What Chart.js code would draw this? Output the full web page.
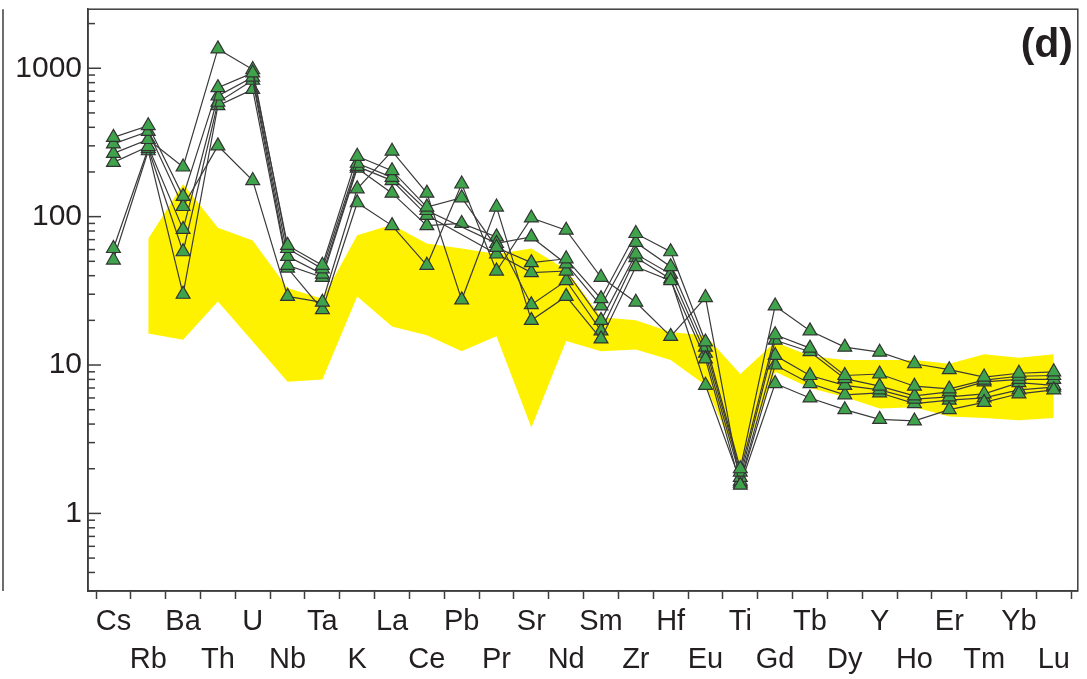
<!DOCTYPE html>
<html>
<head>
<meta charset="utf-8">
<script src="https://cdn.jsdelivr.net/npm/chart.js@4"></script>
<style>
  body { margin: 0; background: #fff; }
  canvas { display: block; }
</style>
</head>
<body>
<canvas id="spider" width="1087" height="679"></canvas>
<script>
// element order on the x axis
const elements = ['Cs','Rb','Ba','Th','U','Nb','Ta','K','La','Ce','Pb','Pr','Sr','Nd','Sm','Zr','Hf','Eu','Ti','Gd','Tb','Dy','Y','Ho','Er','Tm','Yb','Lu'];

// normalised values, one array per sample (null = not measured)
const sampleA = [342, 410, 137, 740, 930, 64, 47, 255, 204, 116, 134, 62, 49, 52, 28, 77, 58, 14.3, 2.0, 25, 17, 13.2, 12.2, 10.2, 9.3, 8.3, 8.8, 9.0];
const sampleB = [309, 375, 117, 300, 175, 29, 26.5, 154, 276, 144, 27.5, 116, 20, 29, 15, 46, 37, 11, 1.55, 7.5, 6.0, 5.0, 4.3, 4.2, 5.0, 5.6, 6.4, 6.8];
const sampleC = [267, 331, 216, 1350, 980, 61, 44.5, 229, 184, 110, null, 66, 73, 48, 25, 67, 46, 13.2, 1.9, 16, 13, 8.5, 8.7, 7.2, 6.9, 7.9, 8.4, 8.5];
const sampleD = [232, 297, 82, 650, 870, 54, 41, 218, 175, 102, null, 56, 42, 43, 20, 56, 41, 12, 1.75, 14.7, 12.3, 8.1, 7.2, 6.2, 6.6, 7.7, 8.0, 8.0];
const sampleE = [61, 288, 58, 590, 830, 47, 39, 212, 144, 87, 90, 73, 25.5, 37, 17, 53, 38, 7.3, 1.65, 11.6, 8.5, 7.3, 6.8, 5.9, 6.1, 6.4, 7.6, 7.3];
const sampleF = [51, 278, 30, 560, 720, 45, 23.6, 124, 87, 47, 166, 43, 98, 81, 39, 26.5, 15.6, 28.5, 1.6, 10, 7.5, 6.3, 6.5, 5.5, 5.8, 6.0, 6.8, 7.1];

// reference field (yellow band), Rb .. Lu
const fieldStart = 1;
const fieldUpper = [71, 166, 84, 69, 33, 28, 75, 88, 66, 61, 56, 61, 44, 21, 20, 16.7, 15.8, 8.7, 14.3, 11.5, 10.8, 10.8, 10.8, 10.2, 11.8, 11.2, 11.8];
const fieldLower = [16.3, 14.8, 26.8, 14.4, 7.7, 8.0, 29, 18.2, 15.9, 12.4, 15.6, 3.8, 14.5, 12.4, 12.7, 10.8, 7.3, 2.1, 9.0, 7.0, 6.1, 5.1, 5.2, 4.5, 4.4, 4.25, 4.4];

const yTicks = [0.3,0.4,0.5,0.6,0.7,0.8,0.9,1,2,3,4,5,6,7,8,9,10,20,30,40,50,60,70,80,90,100,200,300,400,500,600,700,800,900,1000,2000];

const frameColor = '#3d3d3d';
const toPoints = arr => arr.map((v, i) => ({x: i, y: v}));
const fieldPoints = arr => arr.map((v, i) => ({x: i + fieldStart, y: v}));
const isDecade = v => Math.abs(Math.log10(v) - Math.round(Math.log10(v))) < 1e-9;

function sample(data) {
    return {
        data: toPoints(data),
        borderColor: '#3b3b3b',
        borderWidth: 1.2,
        pointStyle: 'triangle',
        pointRadius: 8,
        pointBackgroundColor: '#3ea34b',
        pointBorderColor: '#333',
        pointBorderWidth: 1.2,
        spanGaps: true,
        fill: false,
        order: 1
    };
}

const framePlugin = {
    id: 'frame',
    afterDraw(chart) {
        const {ctx, chartArea: a, scales} = chart;
        ctx.save();
        ctx.strokeStyle = frameColor;
        ctx.lineWidth = 1.5;
        ctx.strokeRect(a.left, a.top, a.right - a.left, a.bottom - a.top);
        // stray panel edge on the far left
        ctx.beginPath();
        ctx.moveTo(3, a.top);
        ctx.lineTo(3, a.bottom);
        ctx.stroke();
        // inward y ticks
        scales.y.ticks.forEach(t => {
            const py = scales.y.getPixelForValue(t.value);
            const len = isDecade(t.value) ? 13 : 7;
            ctx.beginPath();
            ctx.moveTo(a.left, py);
            ctx.lineTo(a.left + len, py);
            ctx.stroke();
        });
        // panel letter
        ctx.fillStyle = '#231f20';
        ctx.font = 'bold 41px "Liberation Sans", Arial, sans-serif';
        ctx.textAlign = 'right';
        ctx.textBaseline = 'middle';
        ctx.fillText('(d)', 1073, 46);
        ctx.restore();
    }
};

new Chart(document.getElementById('spider'), {
    type: 'line',
    data: {
        datasets: [
            {
                data: fieldPoints(fieldUpper),
                borderWidth: 0,
                pointRadius: 0,
                backgroundColor: '#fff200',
                fill: '+1',
                order: 5
            },
            {
                data: fieldPoints(fieldLower),
                borderWidth: 0,
                pointRadius: 0,
                backgroundColor: '#fff200',
                fill: false,
                order: 5
            },
            sample(sampleA),
            sample(sampleB),
            sample(sampleC),
            sample(sampleD),
            sample(sampleE),
            sample(sampleF)
        ]
    },
    options: {
        responsive: false,
        animation: false,
        layout: {padding: {left: 0, top: 9, right: 7, bottom: 0}},
        plugins: {legend: {display: false}, tooltip: {enabled: false}},
        scales: {
            x: {
                type: 'linear',
                min: -0.73,
                max: 27.69,
                afterBuildTicks: axis => {
                    const t = [];
                    for (let v = -0.5; v <= 27.5; v += 0.5) t.push({value: v});
                    axis.ticks = t;
                },
                afterFit: axis => {
                    axis.height = 88;
                    axis.paddingLeft = 0;
                    axis.paddingRight = 0;
                },
                ticks: {
                    autoSkip: false,
                    maxRotation: 0,
                    minRotation: 0,
                    padding: 4,
                    color: '#231f20',
                    font: {family: '"Liberation Sans", Arial, sans-serif', size: 29, lineHeight: 1.32},
                    callback: v => {
                        if (!Number.isInteger(v)) return '';
                        const name = elements[v];
                        return v % 2 === 0 ? [name, ''] : ['', name];
                    }
                },
                grid: {
                    drawOnChartArea: false,
                    tickLength: 8,
                    tickWidth: 1.5,
                    tickColor: c => (c.tick && Number.isInteger(c.tick.value)) ? 'rgba(0,0,0,0)' : frameColor
                },
                border: {display: true, color: frameColor, width: 1.5}
            },
            y: {
                type: 'logarithmic',
                min: 0.3,
                max: 2500,
                afterBuildTicks: axis => { axis.ticks = yTicks.map(v => ({value: v})); },
                afterFit: axis => {
                    axis.width = 88;
                    axis.paddingTop = 0;
                    axis.paddingBottom = 0;
                },
                ticks: {
                    autoSkip: false,
                    padding: 6,
                    color: '#231f20',
                    font: {family: '"Liberation Sans", Arial, sans-serif', size: 30},
                    callback: v => isDecade(v) ? String(Math.round(v)) : ''
                },
                grid: {drawOnChartArea: false, drawTicks: false},
                border: {display: true, color: frameColor, width: 1.5}
            }
        }
    },
    plugins: [framePlugin]
});
</script>
</body>
</html>
